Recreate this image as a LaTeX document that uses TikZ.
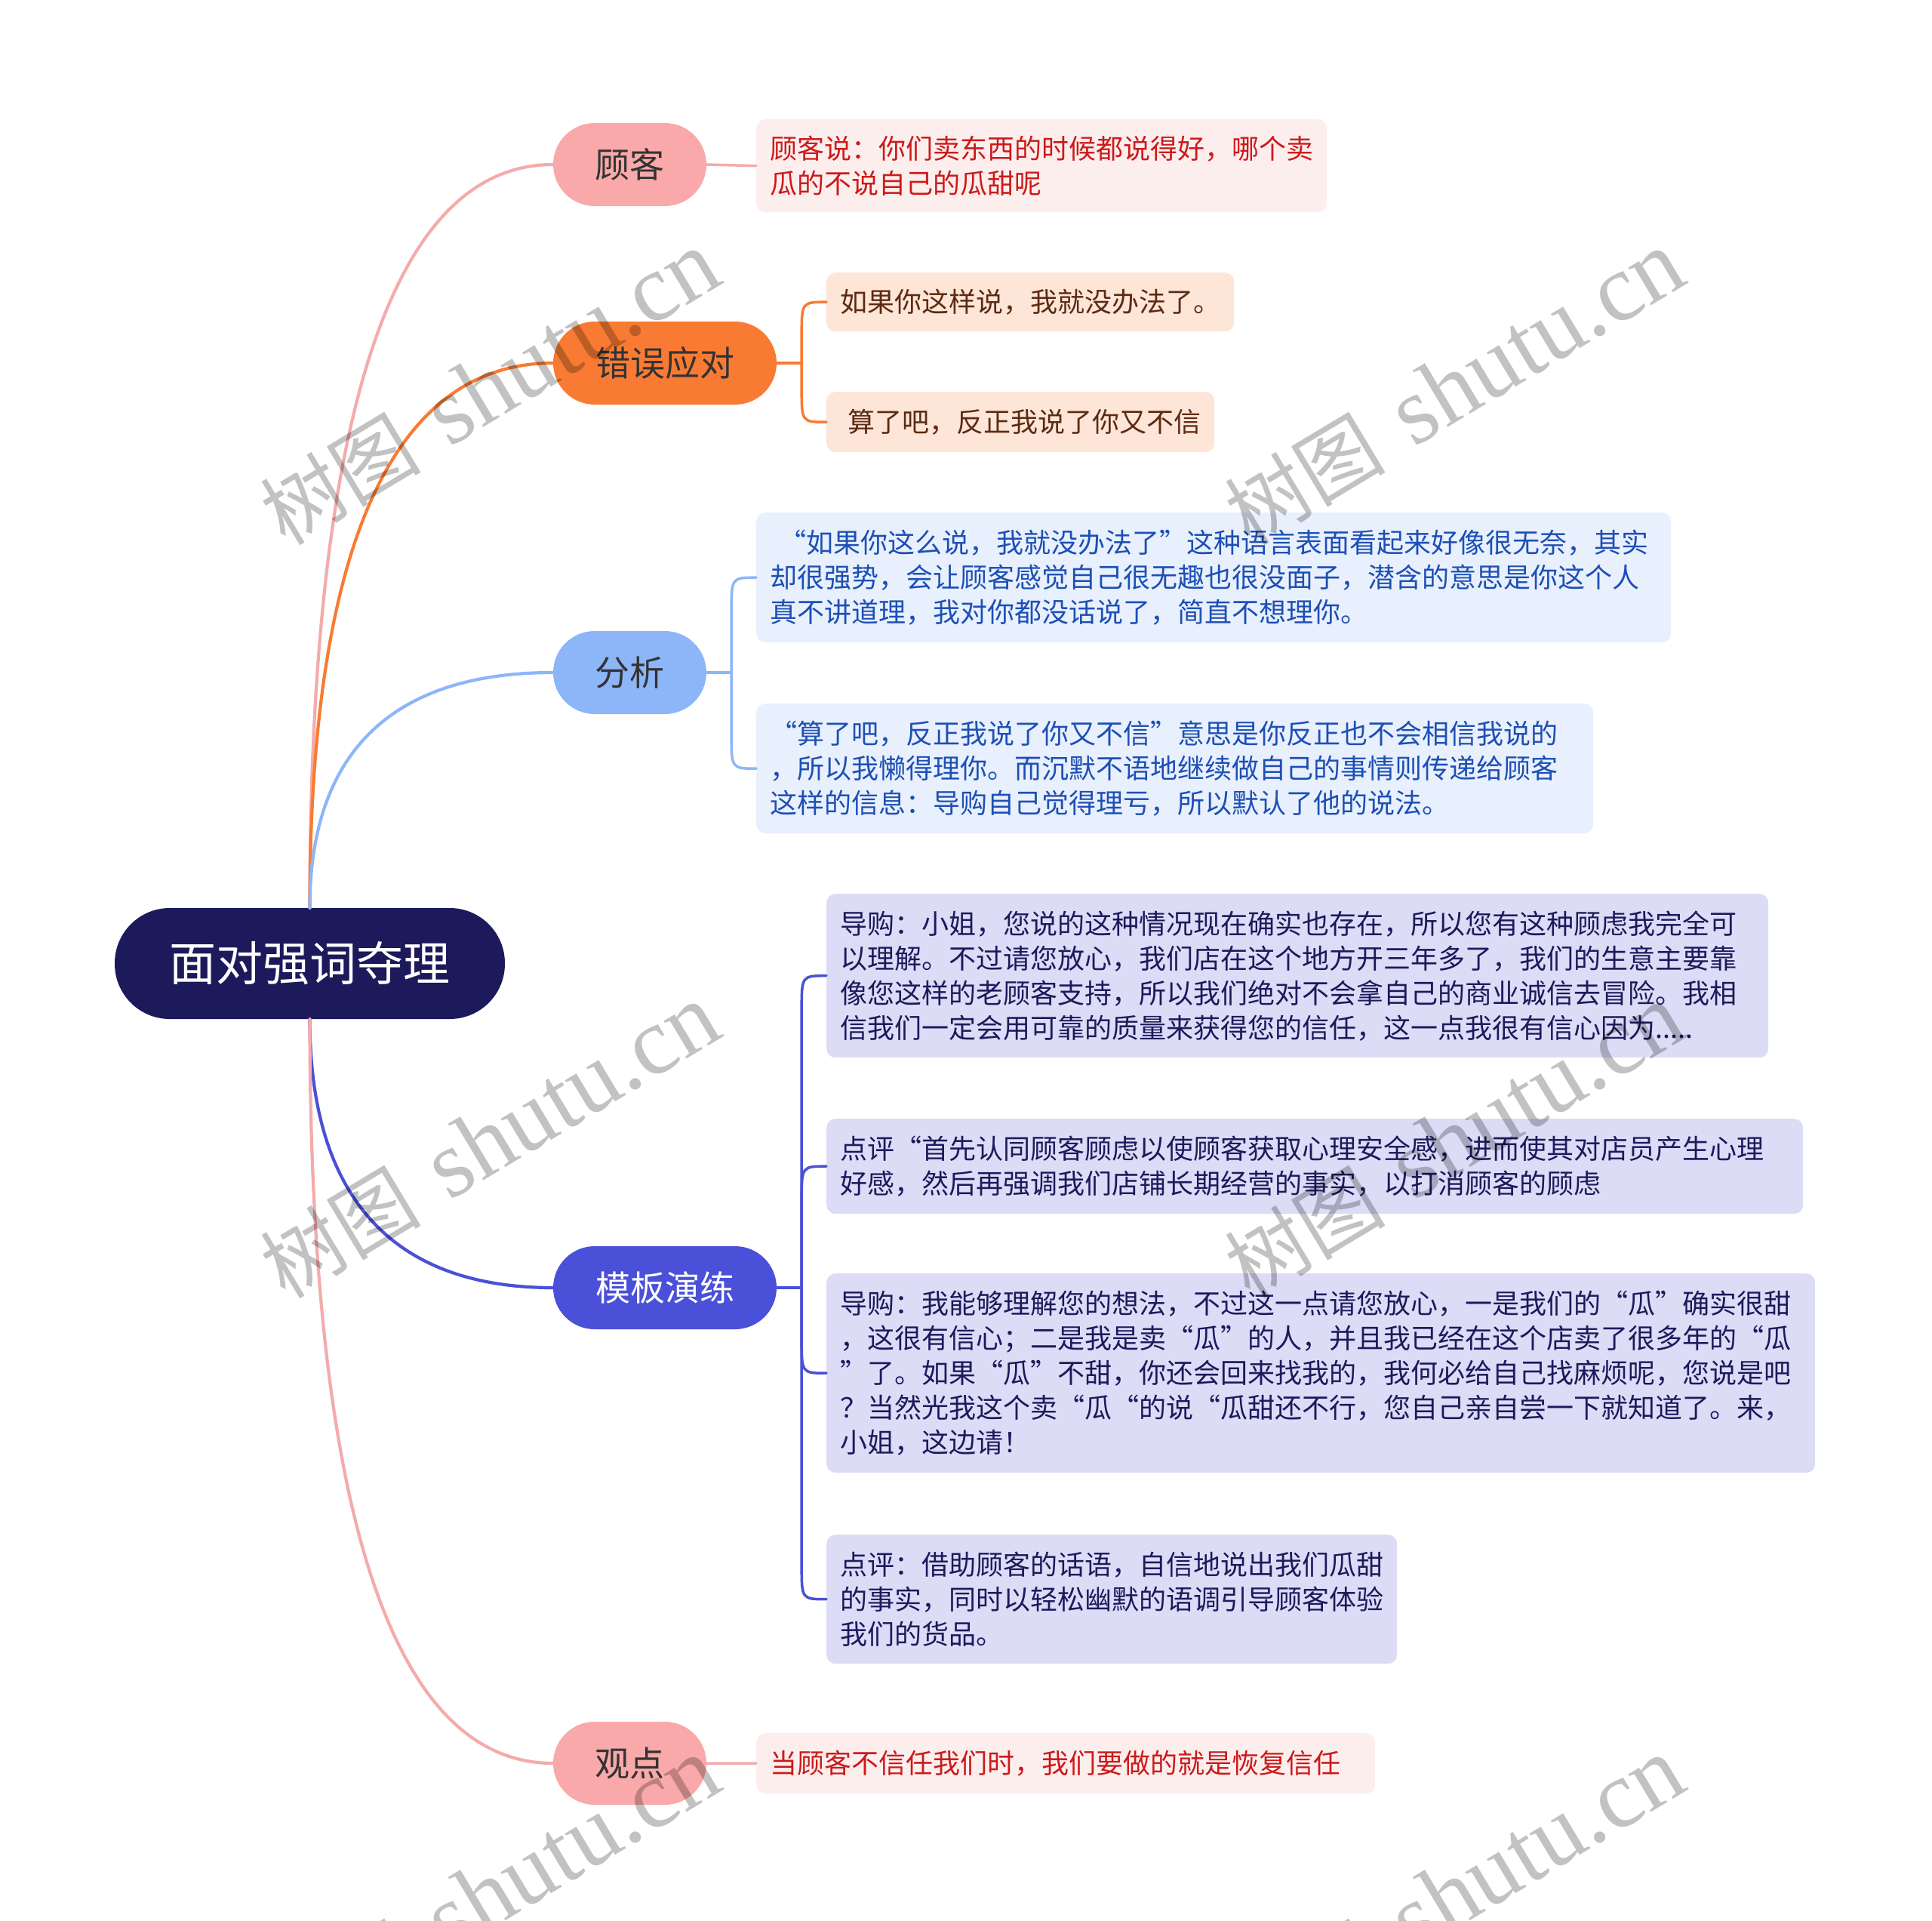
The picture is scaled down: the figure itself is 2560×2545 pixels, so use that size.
\documentclass[tikz,border=0pt]{standalone}
\usepackage{fontspec}
\setmainfont{Noto Sans CJK SC}
\newfontfamily\wmlatin{Liberation Serif}
\usetikzlibrary{calc}
\definecolor{rootc}{HTML}{1C1A5B}
\definecolor{pinkc}{HTML}{F9A9A9}
\definecolor{pinkline}{HTML}{F4ABAB}
\definecolor{orangec}{HTML}{F97B33}
\definecolor{bluec}{HTML}{8DB6F8}
\definecolor{violetc}{HTML}{4A50D8}
\definecolor{pinkleaf}{HTML}{FDEEEE}
\definecolor{redtext}{HTML}{CC1A1A}
\definecolor{peachleaf}{HTML}{FDE5D8}
\definecolor{browntext}{HTML}{5C2A12}
\definecolor{blueleaf}{HTML}{E8F0FD}
\definecolor{bluetext}{HTML}{1D4FB5}
\definecolor{lavleaf}{HTML}{DCDCF7}
\definecolor{navytext}{HTML}{1C1A5B}
\definecolor{darktext}{HTML}{333333}
\tikzset{
  lone/.style={rounded corners=55pt, minimum height=110pt, inner sep=0pt,
    font=\fontsize{46}{56}\selectfont, text=darktext},
  leaf/.style={anchor=north west, rounded corners=12pt, inner xsep=18pt,
    inner ysep=0pt, align=left, font=\fontsize{36}{46}\selectfont},
  br/.style={line width=3.5pt, line cap=round},
  mainbr/.style={line width=4.2pt, line cap=round},
  wm/.style={rotate=31, text=black, text opacity=0.24, inner sep=0pt},
}
\newcommand\mmbranch[3]{%
  \draw[mainbr,#1] (#2) .. controls ($(#2)!0.6!(#2|-#3.west)$) and ($(#2|-#3.west)!0.28!(#3.west)$) .. (#3.west);}
\newcommand\mmbracket[3]{%
  \draw[br,#1] (#2) -- ($(#2|-#3.west)!45pt!(#2)$) .. controls (#2|-#3.west) .. (#3.west);}
\newcommand\wmtext{{\fontsize{107}{120}\selectfont 树图\hspace{40pt}{\wmlatin\fontsize{127}{130}\selectfont shutu.cn}}}
\begin{document}
\begin{tikzpicture}[x=1pt,y=-1pt]
\useasboundingbox (0,0) rectangle (2560,2545);
% root
\node[fill=rootc, text=white, rounded corners=73pt, minimum width=517pt,
  minimum height=147pt, inner sep=0pt, font=\fontsize{62}{72}\selectfont]
  (root) at (410.5,1276.5) {面对强词夺理};
% level 1
\node[lone, fill=pinkc, minimum width=203pt] (gk) at (834.5,218) {顾客};
\node[lone, fill=orangec, minimum width=296pt] (cw) at (881,481) {错误应对};
\node[lone, fill=bluec, minimum width=203pt] (fx) at (834.5,891) {分析};
\node[lone, fill=violetc, text=white, minimum width=296pt] (mb) at (881,1706) {模板演练};
\node[lone, fill=pinkc, minimum width=203pt] (gd) at (834.5,2336) {观点};
% leaves
\node[leaf, fill=pinkleaf, text=redtext, text width=720pt, minimum height=123pt] (g1) at (1002,158)
  {顾客说：你们卖东西的时候都说得好，哪个卖\\瓜的不说自己的瓜甜呢};
\node[leaf, fill=peachleaf, text=browntext, text width=504pt, minimum height=78pt] (e1) at (1095,361)
  {如果你这样说，我就没办法了。};
\node[leaf, fill=peachleaf, text=browntext, text width=478pt, minimum height=80pt] (e2) at (1095,519)
  {\hspace*{10pt}算了吧，反正我说了你又不信};
\node[leaf, fill=blueleaf, text=bluetext, text width=1176pt, minimum height=172pt] (a1) at (1002,679)
  {\hspace*{12pt}“如果你这么说，我就没办法了”这种语言表面看起来好像很无奈，其实\\却很强势，会让顾客感觉自己很无趣也很没面子，潜含的意思是你这个人\\真不讲道理，我对你都没话说了，简直不想理你。};
\node[leaf, fill=blueleaf, text=bluetext, text width=1073pt, minimum height=172pt] (a2) at (1002,932)
  {“算了吧，反正我说了你又不信”意思是你反正也不会相信我说的\\，所以我懒得理你。而沉默不语地继续做自己的事情则传递给顾客\\这样的信息：导购自己觉得理亏，所以默认了他的说法。};
\node[leaf, fill=lavleaf, text=navytext, text width=1212pt, minimum height=217pt] (m1) at (1095,1184)
  {导购：小姐，您说的这种情况现在确实也存在，所以您有这种顾虑我完全可\\以理解。不过请您放心，我们店在这个地方开三年多了，我们的生意主要靠\\像您这样的老顾客支持，所以我们绝对不会拿自己的商业诚信去冒险。我相\\信我们一定会用可靠的质量来获得您的信任，这一点我很有信心因为.....};
\node[leaf, fill=lavleaf, text=navytext, text width=1258pt, minimum height=126pt] (m2) at (1095,1482)
  {点评“首先认同顾客顾虑以使顾客获取心理安全感，进而使其对店员产生心理\\好感，然后再强调我们店铺长期经营的事实，以打消顾客的顾虑};
\node[leaf, fill=lavleaf, text=navytext, text width=1274pt, minimum height=264pt] (m3) at (1095,1687)
  {导购：我能够理解您的想法，不过这一点请您放心，一是我们的“瓜”确实很甜\\，这很有信心；二是我是卖“瓜”的人，并且我已经在这个店卖了很多年的“瓜\\”了。如果“瓜”不甜，你还会回来找我的，我何必给自己找麻烦呢，您说是吧\\？当然光我这个卖“瓜“的说“瓜甜还不行，您自己亲自尝一下就知道了。来，\\小姐，这边请！};
\node[leaf, fill=lavleaf, text=navytext, text width=720pt, minimum height=171pt] (m4) at (1095,2033)
  {点评：借助顾客的话语，自信地说出我们瓜甜\\的事实，同时以轻松幽默的语调引导顾客体验\\我们的货品。};
\node[leaf, fill=pinkleaf, text=redtext, text width=784pt, minimum height=80pt] (o1) at (1002,2296)
  {当顾客不信任我们时，我们要做的就是恢复信任};
% main branches
\mmbranch{pinkline}{root.north}{gk}
\mmbranch{orangec}{root.north}{cw}
\mmbranch{bluec}{root.north}{fx}
\mmbranch{violetc}{root.south}{mb}
\mmbranch{pinkline}{root.south}{gd}
% second level connectors
\draw[br, pinkline] (gk.east) -- (g1.west);
\draw[br, pinkline] (gd.east) -- (o1.west);
\coordinate (cws) at ($(cw.east)+(33,0)$);
\draw[br, orangec] (cw.east) -- (cws);
\mmbracket{orangec}{cws}{e1}
\mmbracket{orangec}{cws}{e2}
\coordinate (fxs) at ($(fx.east)+(33,0)$);
\draw[br, bluec] (fx.east) -- (fxs);
\mmbracket{bluec}{fxs}{a1}
\mmbracket{bluec}{fxs}{a2}
\coordinate (mbs) at ($(mb.east)+(33,0)$);
\draw[br, violetc] (mb.east) -- (mbs);
\mmbracket{violetc}{mbs}{m1}
\mmbracket{violetc}{mbs}{m2}
\mmbracket{violetc}{mbs}{m3}
\mmbracket{violetc}{mbs}{m4}
% watermarks
\node[wm] (wm1) at (649,514) {\wmtext};
\node[wm] (wm2) at (1927,514) {\wmtext};
\node[wm] (wm3) at (649,1512) {\wmtext};
\node[wm] (wm4) at (1927,1512) {\wmtext};
\node[wm] (wm5) at (649,2510) {\wmtext};
\node[wm] (wm6) at (1927,2510) {\wmtext};
\end{tikzpicture}
\end{document}
